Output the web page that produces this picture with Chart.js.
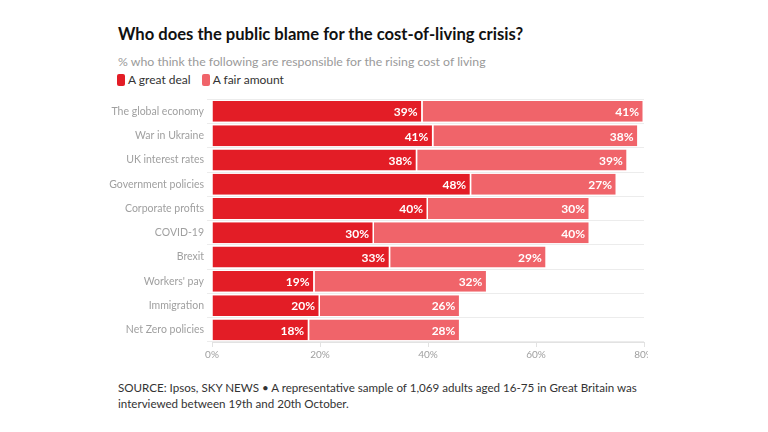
<!DOCTYPE html>
<html lang="en">
<head>
<meta charset="UTF-8">
<title>Who does the public blame for the cost-of-living crisis?</title>
<script src="https://cdn.jsdelivr.net/npm/chart.js"></script>
<style>
    body { margin: 0; width: 768px; height: 432px; background: #fff; font-family: Lato, sans-serif; position: relative; overflow: hidden; }
    h1 { position: absolute; left: 118px; top: 24px; margin: 0; font-size: 16.6px; font-weight: 700; color: #111; }
    .sub { position: absolute; left: 118px; top: 54px; font-size: 12.3px; color: #9a9a9a; }
    .legend { position: absolute; left: 117px; top: 72px; font-size: 12px; color: #333; }
    .legend span { display: inline-block; margin-right: 8px; }
    .sw { display: inline-block; width: 8px; height: 12px; border-radius: 2px; vertical-align: -2px; margin-right: 3px; }
    .chartbox { position: absolute; left: 0; top: 90px; width: 648px; height: 273px; }
    .source { position: absolute; left: 118px; top: 380px; font-size: 11.6px; color: #333; line-height: 16px; white-space: nowrap; }
</style>
</head>
<body>
<h1>Who does the public blame for the cost-of-living crisis?</h1>
<div class="sub">% who think the following are responsible for the rising cost of living</div>
<div class="legend">
    <span><i class="sw" style="background:#e31d26"></i>A great deal</span>
    <span><i class="sw" style="background:#f0646a"></i>A fair amount</span>
</div>
<div class="chartbox"><canvas id="chart"></canvas></div>
<div class="source">SOURCE: Ipsos, SKY NEWS • A representative sample of 1,069 adults aged 16-75 in Great Britain was<br>interviewed between 19th and 20th October.</div>

<script>
    const categories = ["The global economy", "War in Ukraine", "UK interest rates", "Government policies",
        "Corporate profits", "COVID-19", "Brexit", "Workers' pay", "Immigration", "Net Zero policies"];
    const greatDeal = [39, 41, 38, 48, 40, 30, 33, 19, 20, 18];
    const fairAmount = [41, 38, 39, 27, 30, 40, 29, 32, 26, 28];
    const xTicks = [0, 20, 40, 60, 80];

    // white % labels at the end of each segment
    const barLabels = {
        id: "barLabels",
        afterDatasetsDraw(chart) {
            const ctx = chart.ctx;
            ctx.save();
            ctx.font = "bold 12px Lato, sans-serif";
            ctx.fillStyle = "#fff";
            ctx.textAlign = "right";
            ctx.textBaseline = "middle";
            chart.data.datasets.forEach((ds, i) => {
                chart.getDatasetMeta(i).data.forEach((bar, j) => {
                    ctx.fillText(ds.data[j] + "%", bar.x - 5, bar.y + 1);
                });
            });
            ctx.restore();
        }
    };

    new Chart(document.getElementById("chart"), {
        type: "bar",
        data: {
            labels: categories,
            datasets: [
                { label: "A great deal", data: greatDeal, backgroundColor: "#e31d26",
                  borderColor: "#fff", borderWidth: { right: 1.5 }, borderSkipped: false },
                { label: "A fair amount", data: fairAmount, backgroundColor: "#f0646a",
                  borderColor: "#fff", borderWidth: { right: 1.5 }, borderSkipped: false }
            ]
        },
        options: {
            indexAxis: "y",
            responsive: true,
            maintainAspectRatio: false,
            animation: false,
            layout: { padding: { top: 5, right: 4, left: 0, bottom: 0 } },
            datasets: { bar: { barPercentage: 0.86, categoryPercentage: 1 } },
            plugins: { legend: { display: false }, tooltip: { enabled: false } },
            scales: {
                x: {
                    stacked: true, min: 0, max: 80,
                    afterBuildTicks(scale) { scale.ticks = xTicks.map(v => ({ value: v })); },
                    afterFit(scale) { scale.paddingRight = 0; scale.paddingLeft = 0; },
                    grid: { display: true, drawOnChartArea: false, tickLength: 5, color: "#e2e2e2" },
                    border: { color: "#e2e2e2" },
                    ticks: { callback: v => v + "%", color: "#a0a0a0", font: { size: 10, family: "Lato, sans-serif" }, padding: 2, maxRotation: 0 }
                },
                y: {
                    stacked: true,
                    afterFit(scale) { scale.width = 212; },
                    grid: { color: "#ececec", tickLength: 5 },
                    border: { display: false },
                    ticks: { color: "#a0a0a0", font: { size: 10.5, family: "Lato, sans-serif" }, padding: 3 }
                }
            }
        },
        plugins: [barLabels]
    });
</script>
</body>
</html>
